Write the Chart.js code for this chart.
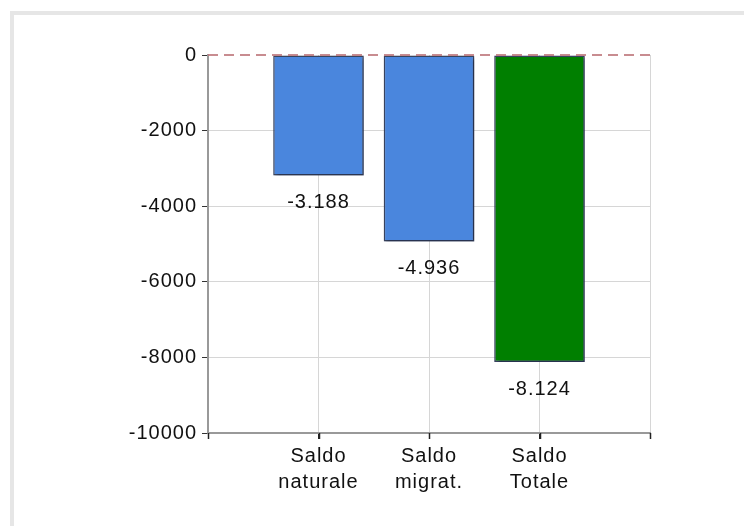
<!DOCTYPE html>
<html>
<head>
<meta charset="utf-8">
<script src="https://cdn.jsdelivr.net/npm/chart.js@4"></script>
<style>
  body { margin: 0; overflow: hidden; background: #fff; }
  #frame { position: absolute; left: 10px; top: 11px; width: 800px; height: 600px; border: 4px solid #e6e6e6; }
  #wrap { position: absolute; left: 0; top: 0; width: 744px; height: 526px; }
</style>
</head>
<body>
<div id="frame"></div>
<div id="wrap"><canvas id="chart" width="744" height="526"></canvas></div>
<script>
// categories (empty slots at both ends leave room like the original)
const categories = ['', ['Saldo', 'naturale'], ['Saldo', 'migrat.'], ['Saldo', 'Totale'], ''];
const values = [null, -3188, -4936, -8124, null];
const barColors = ['#4a86dd', '#4a86dd', '#4a86dd', '#007f00', '#4a86dd'];
const yTicks = [0, -2000, -4000, -6000, -8000, -10000];

const FONT = "'Liberation Sans', Arial, sans-serif";

// italian style number: -3.188
function itFormat(v) {
    const s = Math.abs(v).toString().replace(/\B(?=(\d{3})+(?!\d))/g, '.');
    return (v < 0 ? '-' : '') + s;
}

// a bit wider text spacing, like the original renderer
const spacing = {
    id: 'spacing',
    beforeDraw(chart) { chart.ctx.letterSpacing = '1px'; }
};

// soft shadow under the bars
const barShadow = {
    id: 'barShadow',
    beforeDatasetsDraw(chart) {
        const ctx = chart.ctx;
        ctx.save();
        ctx.shadowColor = 'rgba(20,30,60,0.6)';
        ctx.shadowOffsetX = 2;
        ctx.shadowOffsetY = 2;
        ctx.shadowBlur = 3;
    },
    afterDatasetsDraw(chart) {
        chart.ctx.restore();
    }
};

// dashed zero line, x tick marks and value labels under each bar
const extras = {
    id: 'extras',
    afterDatasetsDraw(chart) {
        const ctx = chart.ctx;
        const area = chart.chartArea;
        const y0 = chart.scales.y.getPixelForValue(0);
        ctx.save();
        ctx.strokeStyle = 'rgba(190,120,125,0.85)';
        ctx.lineWidth = 2;
        ctx.setLineDash([10, 6]);
        ctx.beginPath();
        ctx.moveTo(area.left, y0);
        ctx.lineTo(area.right, y0);
        ctx.stroke();
        ctx.restore();

        const xs = chart.scales.x;
        ctx.save();
        ctx.strokeStyle = '#222';
        ctx.lineWidth = 1.5;
        xs.ticks.forEach((t, i) => {
            const px = Math.round(xs.getPixelForTick(i)) + 0.5;
            ctx.beginPath();
            ctx.moveTo(px, area.bottom);
            ctx.lineTo(px, area.bottom + 6);
            ctx.stroke();
        });
        ctx.restore();

        ctx.save();
        ctx.font = '20px ' + FONT;
        ctx.fillStyle = '#111';
        ctx.textAlign = 'center';
        ctx.textBaseline = 'middle';
        chart.getDatasetMeta(0).data.forEach((bar, i) => {
            if (values[i] === null) return;
            ctx.fillText(itFormat(values[i]), bar.x, bar.y + 27);
        });
        ctx.restore();
    }
};

new Chart(document.getElementById('chart'), {
    type: 'bar',
    data: {
        labels: categories,
        datasets: [{
            data: values,
            backgroundColor: barColors,
            borderColor: '#3a4560',
            borderWidth: 1.5,
            borderSkipped: false,
            barPercentage: 0.82,
            categoryPercentage: 1
        }]
    },
    options: {
        responsive: false,
        devicePixelRatio: 1,
        animation: false,
        layout: { padding: { top: 55, right: 94, left: 0, bottom: 0 } },
        plugins: {
            legend: { display: false },
            tooltip: { enabled: false }
        },
        scales: {
            x: {
                offset: false,
                afterFit: s => { s.height = 93; },
                grid: {
                    offset: false,
                    color: '#d6d6d6',
                    tickColor: '#222',
                    tickLength: 6,
                    lineWidth: 1
                },
                border: { color: '#999', width: 2 },
                ticks: {
                    font: { family: FONT, size: 20, lineHeight: 1.3 },
                    color: '#111',
                    padding: 4,
                    maxRotation: 0,
                    autoSkip: false
                }
            },
            y: {
                min: -10000,
                max: 0,
                afterFit: s => { s.width = 208; },
                afterBuildTicks: s => { s.ticks = yTicks.map(v => ({ value: v })); },
                grid: {
                    color: ctx => ctx.tick && ctx.tick.value === 0 ? 'rgba(0,0,0,0)' : '#d6d6d6',
                    tickColor: '#333',
                    tickLength: 6
                },
                border: { color: '#999', width: 2 },
                ticks: {
                    font: { family: FONT, size: 20 },
                    color: '#111',
                    padding: 5,
                    callback: v => String(v)
                }
            }
        }
    },
    plugins: [spacing, barShadow, extras]
});
</script>
</body>
</html>
